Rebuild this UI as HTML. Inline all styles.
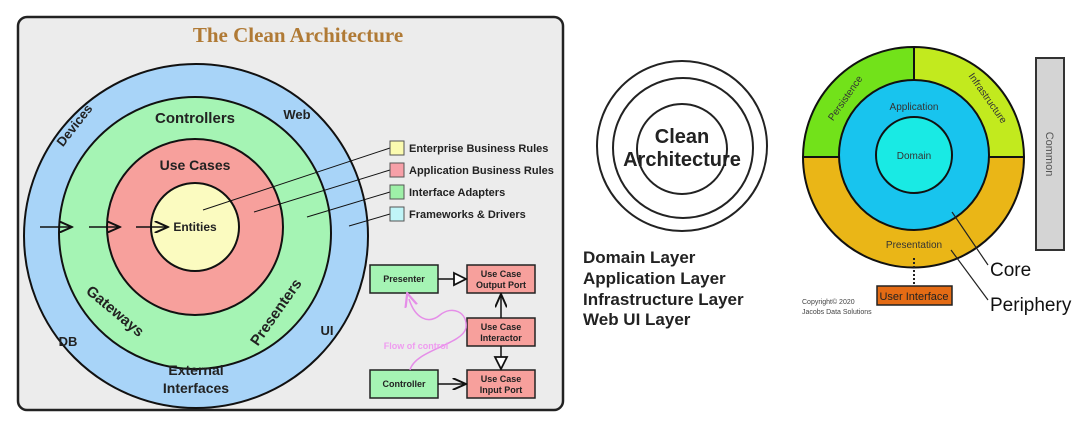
<!DOCTYPE html>
<html><head><meta charset="utf-8"><style>
html,body{margin:0;padding:0;background:#fff;}
svg{display:block;font-family:"Liberation Sans",sans-serif;}
</style></head><body>
<svg width="1090" height="424" viewBox="0 0 1090 424" xmlns="http://www.w3.org/2000/svg">
<defs>
<marker id="ah" markerWidth="10" markerHeight="8" refX="9" refY="4" orient="auto"><path d="M0,0 L9,4 L0,8" fill="none" stroke="#111" stroke-width="1.3"/></marker>
<marker id="tri" markerWidth="10" markerHeight="10" refX="9" refY="5" orient="auto"><path d="M1,1 L9,5 L1,9 Z" fill="#fff" stroke="#111" stroke-width="1.2"/></marker>
<marker id="pk" markerWidth="10" markerHeight="10" refX="5" refY="5" orient="auto"><path d="M0,1 L9,5 L0,9" fill="none" stroke="#e58ee8" stroke-width="1.5"/></marker>
</defs>
<!-- Left panel -->
<rect x="18" y="17" width="545" height="393" rx="9" fill="#ececec" stroke="#222" stroke-width="2.5"/>
<text x="298" y="42" text-anchor="middle" font-family="Liberation Serif,serif" font-weight="bold" font-size="21" fill="#b07a35">The Clean Architecture</text>
<circle cx="196" cy="236" r="172" fill="#a8d4f8" stroke="#111" stroke-width="2"/>
<circle cx="195" cy="233" r="136" fill="#a5f4b4" stroke="#111" stroke-width="2"/>
<circle cx="195" cy="227" r="88" fill="#f7a09c" stroke="#111" stroke-width="2"/>
<circle cx="195" cy="227" r="44" fill="#fbfbc0" stroke="#111" stroke-width="2"/>
<g font-weight="bold" fill="#222">
<text x="195" y="123" text-anchor="middle" font-size="15">Controllers</text>
<text x="195" y="170" text-anchor="middle" font-size="14">Use Cases</text>
<text x="195" y="231" text-anchor="middle" font-size="12">Entities</text>
<text x="297" y="119" text-anchor="middle" font-size="13">Web</text>
<text x="78" y="128" text-anchor="middle" font-size="13" transform="rotate(-52 78 128)">Devices</text>
<text x="68" y="346" text-anchor="middle" font-size="13">DB</text>
<text x="327" y="335" text-anchor="middle" font-size="13">UI</text>
<text x="112" y="315" text-anchor="middle" font-size="15" transform="rotate(40 112 315)">Gateways</text>
<text x="280" y="315" text-anchor="middle" font-size="15" transform="rotate(-55 280 315)">Presenters</text>
<text x="196" y="375" text-anchor="middle" font-size="14">External</text>
<text x="196" y="393" text-anchor="middle" font-size="14">Interfaces</text>
</g>
<g stroke="#111" stroke-width="1.5" marker-end="url(#ah)">
<line x1="40" y1="227" x2="72" y2="227"/><line x1="89" y1="227" x2="120" y2="227"/><line x1="136" y1="227" x2="168" y2="227"/>
</g>
<g stroke="#111" stroke-width="1">
<line x1="203" y1="210" x2="390" y2="148"/><line x1="254" y1="212" x2="390" y2="170"/><line x1="307" y1="217" x2="390" y2="192"/><line x1="349" y1="226" x2="390" y2="214"/>
</g>
<g stroke="#555" stroke-width="1">
<rect x="390" y="141" width="14" height="14" fill="#fbfbb0"/><rect x="390" y="163" width="14" height="14" fill="#f7a0a8"/><rect x="390" y="185" width="14" height="14" fill="#9ef0a8"/><rect x="390" y="207" width="14" height="14" fill="#c0f5f8"/>
</g>
<g font-weight="bold" font-size="11" fill="#222">
<text x="409" y="152">Enterprise Business Rules</text><text x="409" y="174">Application Business Rules</text><text x="409" y="196">Interface Adapters</text><text x="409" y="218">Frameworks &amp; Drivers</text>
</g>
<g stroke="#222" stroke-width="1.5">
<rect x="370" y="265" width="68" height="28" fill="#a5f4b4"/>
<rect x="467" y="265" width="68" height="28" fill="#f7a09c"/>
<rect x="467" y="318" width="68" height="28" fill="#f7a09c"/>
<rect x="370" y="370" width="68" height="28" fill="#a5f4b4"/>
<rect x="467" y="370" width="68" height="28" fill="#f7a09c"/>
</g>
<g font-weight="bold" font-size="9" fill="#222" text-anchor="middle">
<text x="404" y="282">Presenter</text>
<text x="501" y="277">Use Case</text><text x="501" y="288">Output Port</text>
<text x="501" y="330">Use Case</text><text x="501" y="341">Interactor</text>
<text x="404" y="387">Controller</text>
<text x="501" y="382">Use Case</text><text x="501" y="393">Input Port</text>
</g>
<g stroke="#111" stroke-width="1.5">
<line x1="438" y1="279" x2="466" y2="279" marker-end="url(#tri)"/>
<line x1="501" y1="318" x2="501" y2="294" marker-end="url(#ah)"/>
<line x1="501" y1="346" x2="501" y2="369" marker-end="url(#tri)"/>
<line x1="438" y1="384" x2="466" y2="384" marker-end="url(#ah)"/>
</g>
<path d="M410,370 C415,350 462,345 466,328 C468,312 452,305 440,315 C428,325 415,318 409,299" fill="none" stroke="#e58ee8" stroke-width="1.5" marker-end="url(#pk)"/>
<text x="416" y="349" text-anchor="middle" font-size="9" font-weight="bold" fill="#ef9cf0">Flow of control</text>
<!-- Middle -->
<g fill="none" stroke="#222" stroke-width="2">
<circle cx="682" cy="146" r="85"/><circle cx="683" cy="148" r="70"/><circle cx="682" cy="149" r="45"/>
</g>
<g font-weight="bold" fill="#222" text-anchor="middle" font-size="20">
<text x="682" y="143">Clean</text><text x="682" y="166">Architecture</text>
</g>
<g font-weight="bold" fill="#222" font-size="17">
<text x="583" y="263">Domain Layer</text><text x="583" y="284">Application Layer</text><text x="583" y="305">Infrastructure Layer</text><text x="583" y="325">Web UI Layer</text>
</g>
<!-- Right -->
<path d="M803,157 A110.5,110.5 0 0 1 914,47 L914,157 Z" fill="#72e21a" stroke="#111" stroke-width="2"/>
<path d="M914,47 A110.5,110.5 0 0 1 1024,157 L914,157 Z" fill="#c2ea1e" stroke="#111" stroke-width="2"/>
<path d="M803,157 A110.5,110.5 0 0 0 1024,157 Z" fill="#eab617" stroke="#111" stroke-width="2"/>
<circle cx="914" cy="155" r="75" fill="#18c4ee" stroke="#111" stroke-width="2"/>
<circle cx="914" cy="155" r="38" fill="#19eae4" stroke="#111" stroke-width="2"/>
<g fill="#333" font-size="10" text-anchor="middle">
<text x="914" y="110">Application</text>
<text x="914" y="159">Domain</text>
<text x="914" y="248">Presentation</text>
<text x="848" y="100" transform="rotate(-55 848 100)">Persistence</text>
<text x="985" y="100" transform="rotate(55 985 100)">Infrastructure</text>
</g>
<rect x="1036" y="58" width="28" height="192" fill="#d4d4d4" stroke="#333" stroke-width="2"/>
<text x="1050" y="154" transform="rotate(90 1050 154)" text-anchor="middle" font-size="11" fill="#555" dy="4">Common</text>
<line x1="914" y1="258" x2="914" y2="285" stroke="#222" stroke-width="2" stroke-dasharray="2,2"/>
<rect x="877" y="286" width="75" height="19" fill="#e46b14" stroke="#222" stroke-width="1.5"/>
<text x="914" y="300" text-anchor="middle" font-size="11" fill="#222">User Interface</text>
<text x="802" y="304" font-size="7" fill="#444">Copyright© 2020</text>
<text x="802" y="314" font-size="7" fill="#444">Jacobs Data Solutions</text>
<g stroke="#222" stroke-width="1.2" fill="none">
<path d="M952,212 L988,265"/><path d="M951,250 L988,300"/>
</g>
<text x="990" y="276" font-size="19" fill="#111">Core</text>
<text x="990" y="311" font-size="19" fill="#111">Periphery</text>
</svg>
</body></html>
